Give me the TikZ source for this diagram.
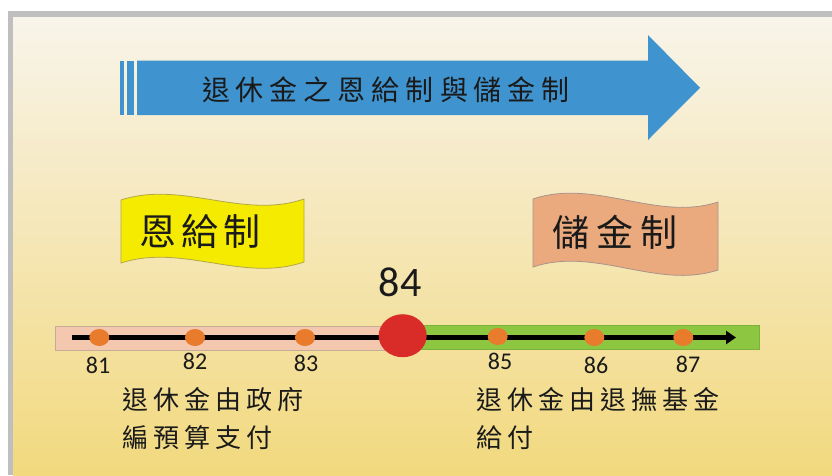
\documentclass[tikz,border=0pt]{standalone}
\usepackage{fontspec}
\setmainfont{Carlito}
\newfontfamily\cjk{Noto Sans CJK TC}
\usetikzlibrary{shapes.geometric,arrows.meta}
\definecolor{framegray}{HTML}{BFBFBF}
\definecolor{bgtop}{HTML}{F8F4EA}
\definecolor{bgmid}{HTML}{F5E6B4}
\definecolor{bgbot}{HTML}{F2D97E}
\definecolor{arrowblue}{HTML}{3F93CE}
\definecolor{flagyellow}{HTML}{F5EB00}
\definecolor{flagyellowline}{HTML}{B0A84A}
\definecolor{flagorange}{HTML}{EBAA7E}
\definecolor{flagorangeline}{HTML}{A8948A}
\definecolor{barpink}{HTML}{F3C8AE}
\definecolor{barpinkline}{HTML}{C4AC98}
\definecolor{bargreen}{HTML}{8DC641}
\definecolor{bargreenline}{HTML}{7CB23A}
\definecolor{dotorange}{HTML}{E97B2C}
\definecolor{bigred}{HTML}{D92B27}
\definecolor{txt}{HTML}{1A1A1A}
\makeatletter
\newcommand\spc[2]{\def\spcsep{}\@tfor\spcch:=#2\do{\spcsep\spcch\def\spcsep{\kern#1}}}
\makeatother
\tikzset{
  dotnode/.style={ellipse,fill=dotorange,inner sep=0pt,minimum width=20pt,minimum height=17pt},
  numlabel/.style={inner sep=0pt,text=txt,font=\fontsize{24}{24}\selectfont},
  cjktext/.style={inner sep=0pt,text=txt},
}
\begin{document}
\begin{tikzpicture}[x=1pt,y=-1pt]
\useasboundingbox (0,0) rectangle (832,475);
% background and frame
\fill[white] (0,0) rectangle (832,475);
\fill[framegray] (8,11) rectangle (832,475);
\shade[top color=bgtop,bottom color=bgbot,middle color=bgmid] (13,17) rectangle (832,475);
% big blue arrow
\fill[arrowblue] (120,60.5) rectangle (124,115);
\fill[arrowblue] (127,60.5) rectangle (134,115);
\fill[arrowblue] (137,60.5) -- (648,60.5) -- (648,35) -- (700,87.75) -- (648,140) -- (648,115) -- (137,115) -- cycle;
\node[cjktext,font=\cjk\fontsize{28}{28}\selectfont] (title) at (386,90) {\spc{6pt}{退休金之恩給制與儲金制}};
% flags
\draw[fill=flagyellow,draw=flagyellowline,line width=0.8pt]
  (121,200) .. controls (182,180) and (243,220) .. (304,199)
  -- (304,262) .. controls (243,283) and (182,243) .. (121,263) -- cycle;
\node[cjktext,font=\cjk\fontsize{37}{37}\selectfont] (enji) at (200,231) {\spc{5pt}{恩給制}};
\draw[fill=flagorange,draw=flagorangeline,line width=0.8pt]
  (533,199) .. controls (595,178) and (657,222) .. (718,202)
  -- (718,270) .. controls (657,290) and (595,246) .. (533,267) -- cycle;
\node[cjktext,font=\cjk\fontsize{37}{37}\selectfont] (chujin) at (615,232) {\spc{7pt}{儲金制}};
% timeline bars
\draw[fill=barpink,draw=barpinkline,line width=0.8pt] (55,326.7) rectangle (404,350.7);
\draw[fill=bargreen,draw=bargreenline,line width=0.8pt] (404,325.7) rectangle (759,349.3);
\coordinate (tstart) at (72,337.5);
\coordinate (tend) at (736,337.5);
\draw[line width=5pt,-{Triangle[length=10pt,width=13pt]}] (tstart) -- (tend);
% dots
\node[dotnode] (d81) at (99.3,337.5) {};
\node[dotnode] (d82) at (195,337.5) {};
\node[dotnode] (d83) at (305,337.5) {};
\node[dotnode] (d85) at (497.7,336.5) {};
\node[dotnode] (d86) at (594.3,337.5) {};
\node[dotnode] (d87) at (683.3,337.5) {};
\node[ellipse,fill=bigred,inner sep=0pt,minimum width=48pt,minimum height=43pt] (d84) at (402.7,335.7) {};
% labels
\node[numlabel] (l81) at (98,365) {81};
\node[numlabel] (l82) at (195,361.5) {82};
\node[numlabel] (l83) at (306,363) {83};
\node[numlabel] (l85) at (500,361.5) {85};
\node[numlabel] (l86) at (596,365) {86};
\node[numlabel] (l87) at (688,364) {87};
\node[inner sep=0pt,text=txt,font=\fontsize{42}{42}\selectfont] (l84) at (400,282) {84};
% descriptions
\node[cjktext,anchor=north west,align=left,font=\cjk\fontsize{26}{38}\selectfont] (leftdesc) at (122,387)
  {\spc{5pt}{退休金由政府}\\\spc{5pt}{編預算支付}};
\node[cjktext,anchor=north west,align=left,font=\cjk\fontsize{26}{38}\selectfont] (rightdesc) at (476,387)
  {\spc{5pt}{退休金由退撫基金}\\\spc{5pt}{給付}};
\end{tikzpicture}
\end{document}
